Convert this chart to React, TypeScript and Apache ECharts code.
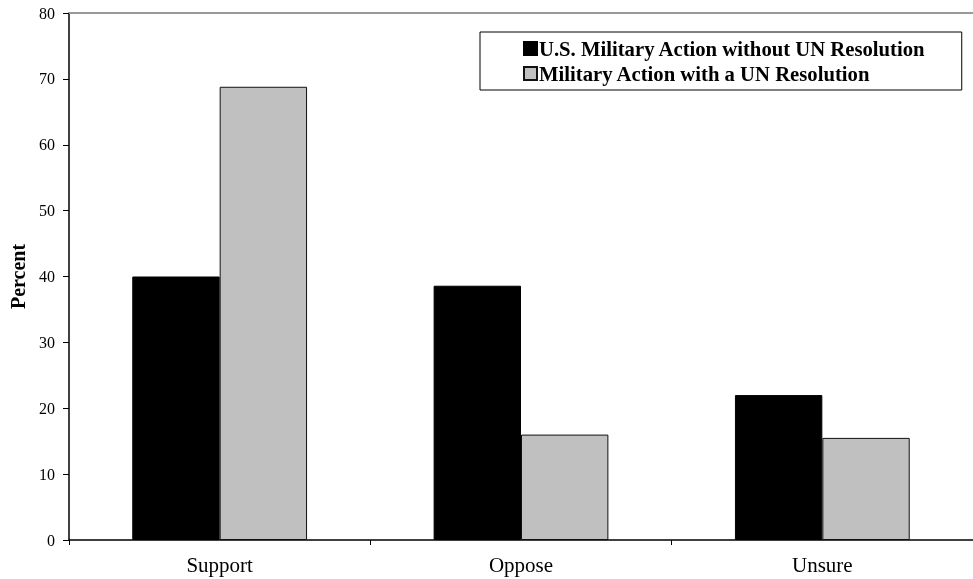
import React, { useEffect, useRef } from "react";
import * as echarts from "echarts";

const categories = ["Support", "Oppose", "Unsure"];
const seriesNames = [
  "U.S. Military Action without UN Resolution",
  "Military Action with a UN Resolution",
];
const withoutUN = [40, 38.6, 22];
const withUN = [68.8, 16, 15.5];

export default function App() {
  const ref = useRef<HTMLDivElement>(null);
  useEffect(() => {
    if (!ref.current) return;
    const chart = echarts.init(ref.current, undefined, { renderer: "svg" });
    const font = "'Liberation Serif', 'Times New Roman', serif";
    chart.setOption({
      animation: false,
      textStyle: { fontFamily: font },
      grid: { left: 69, right: 0, top: 13, bottom: 39, containLabel: false, outerBoundsMode: "none" },
      legend: {
        orient: "vertical",
        left: 480,
        top: 32,
        padding: [6, 36, 6, 43],
        itemGap: 4,
        itemWidth: 13,
        itemHeight: 13,
        borderColor: "#000",
        borderWidth: 1,
        icon: "rect",
        textStyle: { fontFamily: font, fontSize: 20.7, fontWeight: "bold", color: "#000", padding: [0, 0, 0, -3] },
        data: seriesNames,
      },
      xAxis: [
        {
          type: "category",
          data: categories,
          axisLine: { lineStyle: { color: "#000", width: 1.5 } },
          axisTick: { show: true, length: 5, lineStyle: { color: "#000" } },
          axisLabel: { color: "#000", fontSize: 21, margin: 14, fontFamily: font },
        },
        {
          type: "category",
          data: categories,
          position: "top",
          axisLine: { lineStyle: { color: "#999", width: 2 } },
          axisTick: { show: false },
          axisLabel: { show: false },
        },
      ],
      yAxis: {
        type: "value",
        min: 0,
        max: 80,
        interval: 10,
        name: "Percent",
        nameLocation: "middle",
        nameGap: 41,
        nameTextStyle: { fontFamily: font, fontSize: 20, fontWeight: "bold", color: "#000" },
        axisLine: { show: true, lineStyle: { color: "#000", width: 1.5 } },
        axisTick: { show: true, length: 6, lineStyle: { color: "#000" } },
        axisLabel: { color: "#000", fontSize: 16, margin: 14, fontFamily: font },
        splitLine: { show: false },
      },
      series: [
        {
          name: seriesNames[0],
          type: "bar",
          data: withoutUN,
          barGap: "0%",
          barCategoryGap: "42%",
          itemStyle: { color: "#000", borderColor: "#000", borderWidth: 1 },
        },
        {
          name: seriesNames[1],
          type: "bar",
          data: withUN,
          barGap: "0%",
          barCategoryGap: "42%",
          itemStyle: { color: "#c0c0c0", borderColor: "#111", borderWidth: 1 },
        },
      ],
    });
    return () => chart.dispose();
  }, []);
  return <div ref={ref} style={{ position: "fixed", left: 0, top: 0, width: 973, height: 579 }} />;
}
